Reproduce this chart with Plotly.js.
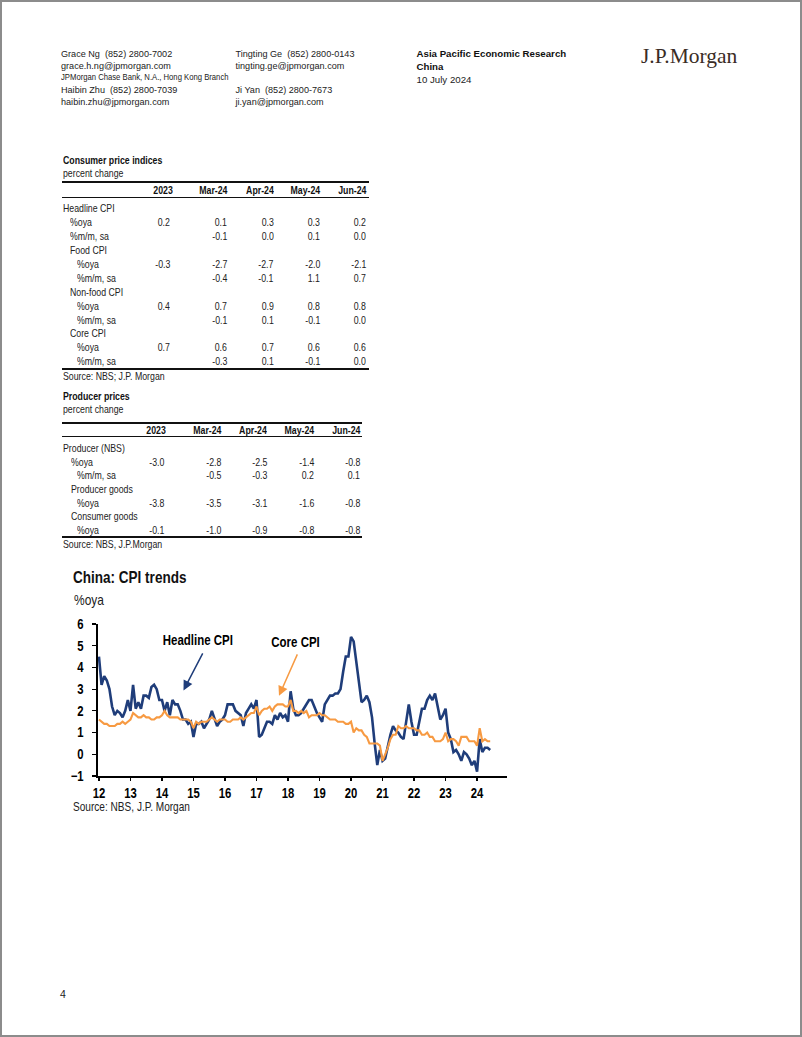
<!DOCTYPE html>
<html>
<head>
<meta charset="utf-8">
<script src="https://cdn.plot.ly/plotly-3.0.1.min.js"></script>
<style>
html,body{margin:0;padding:0;background:#fff;}
#page{position:relative;width:802px;height:1037px;box-sizing:border-box;border:2px solid #8c8c8c;overflow:hidden;background:#fff;}
.t{position:absolute;white-space:pre;color:#222;}
.t span{display:inline-block;}
.ln{position:absolute;background:#111;}
</style>
</head>
<body>
<div id="page">
  <div id="chart" style="position:absolute;left:0;top:560px;width:520px;height:260px;"></div>
</div>
<script>
// ---------------- DATA ----------------
const headerLeft = ["Grace Ng  (852) 2800-7002","grace.h.ng@jpmorgan.com","JPMorgan Chase Bank, N.A., Hong Kong Branch","Haibin Zhu  (852) 2800-7039","haibin.zhu@jpmorgan.com"];
const headerMid = ["Tingting Ge  (852) 2800-0143","tingting.ge@jpmorgan.com","Ji Yan  (852) 2800-7673","ji.yan@jpmorgan.com"];
const headerRight = ["Asia Pacific Economic Research","China","10 July 2024"];
const logoText = "J.P.Morgan";
const pageNumber = "4";

const cpiTitle = "Consumer price indices";
const cpiSubtitle = "percent change";
const cpiCols = ["2023","Mar-24","Apr-24","May-24","Jun-24"];
const cpiLabels = ["Headline CPI","%oya","%m/m, sa","Food CPI","%oya","%m/m, sa","Non-food CPI","%oya","%m/m, sa","Core CPI","%oya","%m/m, sa"];
const cpiLevel  = [0,1,1,1,2,2,1,2,2,1,2,2];
const cpiValues = [
  [null,null,null,null,null],
  [0.2,0.1,0.3,0.3,0.2],
  [null,-0.1,0.0,0.1,0.0],
  [null,null,null,null,null],
  [-0.3,-2.7,-2.7,-2.0,-2.1],
  [null,-0.4,-0.1,1.1,0.7],
  [null,null,null,null,null],
  [0.4,0.7,0.9,0.8,0.8],
  [null,-0.1,0.1,-0.1,0.0],
  [null,null,null,null,null],
  [0.7,0.6,0.7,0.6,0.6],
  [null,-0.3,0.1,-0.1,0.0]
];
const cpiSource = "Source: NBS; J.P. Morgan";

const ppiTitle = "Producer prices";
const ppiSubtitle = "percent change";
const ppiCols = ["2023","Mar-24","Apr-24","May-24","Jun-24"];
const ppiLabels = ["Producer (NBS)","%oya","%m/m, sa","Producer goods","%oya","Consumer goods","%oya"];
const ppiLevel  = [0,1,2,1,2,1,2];
const ppiValues = [
  [null,null,null,null,null],
  [-3.0,-2.8,-2.5,-1.4,-0.8],
  [null,-0.5,-0.3,0.2,0.1],
  [null,null,null,null,null],
  [-3.8,-3.5,-3.1,-1.6,-0.8],
  [null,null,null,null,null],
  [-0.1,-1.0,-0.9,-0.8,-0.8]
];
const ppiSource = "Source: NBS, J.P.Morgan";

const chartTitle = "China: CPI trends";
const chartUnit = "%oya";
const chartSource = "Source: NBS, J.P. Morgan";
const seriesNames = ["Headline CPI","Core CPI"];
const yearTicks = [2012,2013,2014,2015,2016,2017,2018,2019,2020,2021,2022,2023,2024];
const yearTickText = ["12","13","14","15","16","17","18","19","20","21","22","23","24"];
const startYear = 2012;
// monthly %oya from Jan 2012 to Jun 2024
const headlineCPI = [
  4.5,3.2,3.6,3.4,3.0,2.2,1.8,2.0,1.9,1.7,2.0,2.5,
  2.0,3.2,2.1,2.4,2.1,2.7,2.7,2.6,3.1,3.2,3.0,2.5,
  2.5,2.0,2.4,1.8,2.5,2.3,2.3,2.0,1.6,1.6,1.4,1.5,
  0.8,1.4,1.4,1.5,1.2,1.4,1.6,2.0,1.6,1.3,1.5,1.6,
  1.8,2.3,2.3,2.3,2.0,1.9,1.8,1.3,1.9,2.1,2.3,2.1,
  2.5,0.8,0.9,1.2,1.5,1.5,1.4,1.8,1.6,1.9,1.7,1.8,
  1.5,2.9,2.1,1.8,1.8,1.9,2.1,2.3,2.5,2.5,2.2,1.9,
  1.7,1.5,2.3,2.5,2.7,2.7,2.8,2.8,3.0,3.8,4.5,4.5,
  5.4,5.2,4.3,3.3,2.4,2.5,2.7,2.4,1.7,0.5,-0.5,0.2,
  -0.3,-0.2,0.4,0.9,1.3,1.1,1.0,0.8,0.7,1.5,2.3,1.5,
  0.9,0.9,1.5,2.1,2.1,2.5,2.7,2.5,2.8,2.1,1.6,1.8,
  2.1,1.0,0.7,0.1,0.2,0.0,-0.3,0.1,0.0,-0.2,-0.5,-0.3,
  -0.8,0.7,0.1,0.3,0.3,0.2
];
const coreCPI = [
  1.6,1.5,1.4,1.4,1.3,1.3,1.3,1.4,1.4,1.5,1.4,1.5,
  1.6,1.9,1.8,1.7,1.7,1.8,1.7,1.7,1.6,1.6,1.7,1.7,
  1.8,2.0,1.8,1.7,1.7,1.7,1.7,1.6,1.6,1.6,1.6,1.5,
  1.2,1.5,1.4,1.5,1.5,1.5,1.6,1.7,1.6,1.5,1.6,1.6,
  1.6,1.5,1.5,1.6,1.6,1.6,1.7,1.6,1.7,1.8,1.9,1.9,
  2.2,1.8,2.0,2.1,2.1,2.2,2.0,2.2,2.3,2.3,2.3,2.2,
  2.2,2.5,2.0,2.0,1.9,2.0,1.9,2.0,1.7,1.8,1.8,1.8,
  1.9,1.8,1.8,1.7,1.6,1.6,1.6,1.5,1.5,1.5,1.4,1.4,
  1.5,1.0,1.2,1.1,1.1,0.9,0.8,0.5,0.5,0.5,0.5,0.4,
  -0.3,0.0,0.3,0.7,0.9,0.9,1.3,1.2,1.2,1.3,1.2,1.2,
  1.2,1.1,1.1,0.9,0.9,1.0,0.8,0.8,0.6,0.6,0.6,0.7,
  1.0,0.6,0.7,0.7,0.6,0.4,0.8,0.8,0.8,0.6,0.6,0.6,
  0.4,1.2,0.6,0.7,0.6,0.6
];

// ---------------- FONT DETECTION ----------------
function hasFont(name){
  const ctx = document.createElement('canvas').getContext('2d');
  const s = 'Headline CPI mmmwwwiiil 0123';
  let res = false;
  ['monospace','serif'].forEach(fb=>{
    ctx.font = '20px ' + fb; const a = ctx.measureText(s).width;
    ctx.font = '20px "' + name + '", ' + fb; const b = ctx.measureText(s).width;
    if (Math.abs(a-b) > 0.5) res = true;
  });
  return res;
}
const HAS_NARROW = hasFont('Liberation Sans Narrow');
const NARROW = HAS_NARROW ? '"Liberation Sans Narrow", sans-serif' : '"Liberation Sans", Arial, sans-serif';
const NK = HAS_NARROW ? 1 : 0.82;   // horizontal condensing applied when no narrow face exists
const SANS = '"Liberation Sans", Arial, sans-serif';

// ---------------- PAGE TEXT ----------------
const page = document.getElementById('page');
function txt(s, x, yc, o){
  o = o || {};
  const d = document.createElement('div');
  d.className = 't';
  const sp = document.createElement('span');
  sp.textContent = s;
  d.appendChild(sp);
  const lh = 16;
  d.style.lineHeight = lh + 'px';
  d.style.top = (yc - lh/2 - 2) + 'px';
  d.style.fontFamily = o.font || SANS;
  d.style.fontSize = (o.size || 9.2) + 'px';
  if (o.bold) d.style.fontWeight = 'bold';
  if (o.color) d.style.color = o.color;
  if (o.right){ d.style.left = (x - 300 - 2) + 'px'; d.style.width = '300px'; d.style.textAlign = 'right'; }
  else d.style.left = (x - 2) + 'px';
  if (o.narrow && NK !== 1){
    sp.style.transform = 'scaleX(' + NK + ')';
    sp.style.transformOrigin = o.right ? 'right center' : 'left center';
  }
  page.appendChild(d);
  return d;
}
function hline(x1, x2, y, w){
  const d = document.createElement('div');
  d.className = 'ln';
  d.style.left = (x1 - 2) + 'px'; d.style.width = (x2 - x1) + 'px';
  d.style.top = (y - w/2 - 2) + 'px'; d.style.height = w + 'px';
  page.appendChild(d);
}

// header
const hlY = [54, 65.7, 77, 89.5, 101.5];
headerLeft.forEach((s,i)=>{
  if (i === 2) txt(s, 61, hlY[i], {font:NARROW, size:9.4, narrow:true});
  else txt(s, 61, hlY[i], {size:9.1});
});
const hmY = [54, 65.7, 89.5, 101.5];
headerMid.forEach((s,i)=> txt(s, 235.5, hmY[i], {size:9.1}));
txt(headerRight[0], 416.5, 54, {size:9.7, bold:true, color:'#111'});
txt(headerRight[1], 416.5, 67.3, {size:9.7, bold:true, color:'#111'});
txt(headerRight[2], 416.5, 80, {size:9.7});
txt(logoText, 641, 55.5, {font:'"Liberation Serif", "DejaVu Serif", serif', size:21.5, color:'#3a2c25'});
txt(pageNumber, 60, 993.5, {size:10.5, color:'#222'});

// tables
const TS = 10.7;
function buildTable(cfg){
  txt(cfg.title, 62.5, cfg.titleY, {font:NARROW, size:TS, bold:true, color:'#111', narrow:true});
  txt(cfg.subtitle, 62.5, cfg.titleY + 12.8, {font:NARROW, size:TS, narrow:true});
  hline(61.5, cfg.right, cfg.topLine, 2);
  cfg.cols.forEach((c,j)=> txt(c, cfg.headRight[j], cfg.headY, {font:NARROW, size:TS, bold:true, color:'#111', right:true, narrow:true}));
  hline(61.5, cfg.right, cfg.midLine, 1);
  cfg.labels.forEach((lab,i)=>{
    const y = cfg.rowY0 + i*cfg.rowStep;
    txt(lab, cfg.indent[cfg.level[i]], y, {font:NARROW, size:TS, narrow:true});
    cfg.values[i].forEach((v,j)=>{
      if (v === null) return;
      txt(v.toFixed(1), cfg.valRight[j], y, {font:NARROW, size:TS, right:true, narrow:true});
    });
  });
  hline(61.5, cfg.right, cfg.botLine, 2);
  txt(cfg.source, 62.5, cfg.botLine + 6.8, {font:NARROW, size:TS, narrow:true});
}
buildTable({
  title:cpiTitle, subtitle:cpiSubtitle, cols:cpiCols, labels:cpiLabels, level:cpiLevel, values:cpiValues, source:cpiSource,
  titleY:160, topLine:182.3, headY:190, midLine:197.7, rowY0:207.9, rowStep:13.95, botLine:369.3, right:368.5,
  indent:[62.7,70,77.3], headRight:[172.3,227.5,274,320.7,366.7], valRight:[170,227,273.5,320.2,366.2]
});
buildTable({
  title:ppiTitle, subtitle:ppiSubtitle, cols:ppiCols, labels:ppiLabels, level:ppiLevel, values:ppiValues, source:ppiSource,
  titleY:396, topLine:423.3, headY:430, midLine:436.7, rowY0:447.8, rowStep:13.7, botLine:537.3, right:362,
  indent:[62.7,70.7,76.9], headRight:[166,221,267.3,314,360], valRight:[164,221,267.3,314,360]
});

// ---------------- CHART ----------------
const xs = headlineCPI.map((_,i)=> startYear + i/12);
const xsCore = coreCPI.map((_,i)=> startYear + i/12);
const blue = '#1f3d7a', orange = '#f79a42';
const traces = [
  {x: xs, y: headlineCPI, type:'scatter', mode:'lines', name:seriesNames[0], line:{color:blue, width:2.6}},
  {x: xsCore, y: coreCPI, type:'scatter', mode:'lines', name:seriesNames[1], line:{color:orange, width:2.1}}
];
const plotL = 96, plotR = 505, plotT = 622, plotB = 774;
const px = v => (v - plotL)/(plotR - plotL);
const py = v => (plotB - (v))/(plotB - plotT);
const tickFont = {family:NARROW, size:13.8, color:'#000', weight:'bold'};
const layout = {
  width:520, height:260,
  margin:{l:96, r:15, t:62, b:46, pad:0},
  paper_bgcolor:'rgba(0,0,0,0)', plot_bgcolor:'rgba(0,0,0,0)',
  showlegend:false,
  title:{text:'<b>'+chartTitle+'</b>', font:{family:NARROW, size:16.5, color:'#111'}, xref:'container', yref:'container', x:71/520, xanchor:'left', y:1-15.7/260, yanchor:'middle'},
  xaxis:{range:[2011.97, 2024.95], tickvals:yearTicks, ticktext:yearTickText, ticks:'outside', ticklen:3, tickwidth:1.2, tickcolor:'#000',
         showline:true, linecolor:'#000', linewidth:1.6, showgrid:false, zeroline:false, fixedrange:true,
         ticklabelstandoff:1, tickfont:tickFont},
  yaxis:{range:[-1, 6], dtick:1, tick0:0, ticks:'outside', ticklen:4, tickwidth:1.2, tickcolor:'#000',
         showline:true, linecolor:'#000', linewidth:1.6, showgrid:false, zeroline:false, fixedrange:true,
         ticklabelstandoff:6, tickfont:tickFont},
  annotations:[
    {xref:'paper', yref:'paper', x:px(69.5), y:py(598.3), xanchor:'left', yanchor:'middle', text:chartUnit, showarrow:false, font:{family:NARROW, size:14.6, color:'#222'}},
    {xref:'paper', yref:'paper', x:px(69), y:py(805.3), xanchor:'left', yanchor:'middle', text:chartSource, showarrow:false, font:{family:NARROW, size:12.3, color:'#222'}},
    {xref:'paper', yref:'paper', x:px(196), y:py(637.5), xanchor:'center', yanchor:'middle', text:'<b>'+seriesNames[0]+'</b>', showarrow:false, font:{family:NARROW, size:14, color:'#000'}},
    {xref:'paper', yref:'paper', x:px(293.7), y:py(639.5), xanchor:'center', yanchor:'middle', text:'<b>'+seriesNames[1]+'</b>', showarrow:false, font:{family:NARROW, size:14, color:'#000'}},
    {xref:'x', yref:'y', x:2014.683, y:2.94, text:'', showarrow:true, ax:20, ay:-38.5, arrowhead:2, arrowsize:1.3, arrowwidth:1.5, arrowcolor:blue},
    {xref:'x', yref:'y', x:2017.714, y:2.69, text:'', showarrow:true, ax:19, ay:-43, arrowhead:2, arrowsize:1.3, arrowwidth:1.5, arrowcolor:orange}
  ]
};

// condense chart text horizontally (Arial Narrow look) when no narrow face is installed
function condense(root, k){
  if (k === 1) return;
  root.querySelectorAll('text').forEach(t=>{
    if (!t.textContent) return;
    let origin = {start:'left', middle:'center', end:'right'}[t.getAttribute('text-anchor') || 'start'] || 'left';
    const ann = t.closest('.annotation');
    if (ann){
      const a = layout.annotations[+ann.getAttribute('data-index')];
      if (a) origin = a.xanchor === 'left' ? 'left' : a.xanchor === 'right' ? 'right' : 'center';
    }
    const g = document.createElementNS('http://www.w3.org/2000/svg','g');
    t.parentNode.insertBefore(g, t);
    g.appendChild(t);
    g.style.transformBox = 'fill-box';
    g.style.transformOrigin = origin + ' center';
    g.style.transform = 'scaleX(' + k + ')';
  });
}
Plotly.newPlot('chart', traces, layout, {displayModeBar:false, staticPlot:true}).then(gd=>{
  condense(gd, NK);
});
</script>
</body>
</html>
